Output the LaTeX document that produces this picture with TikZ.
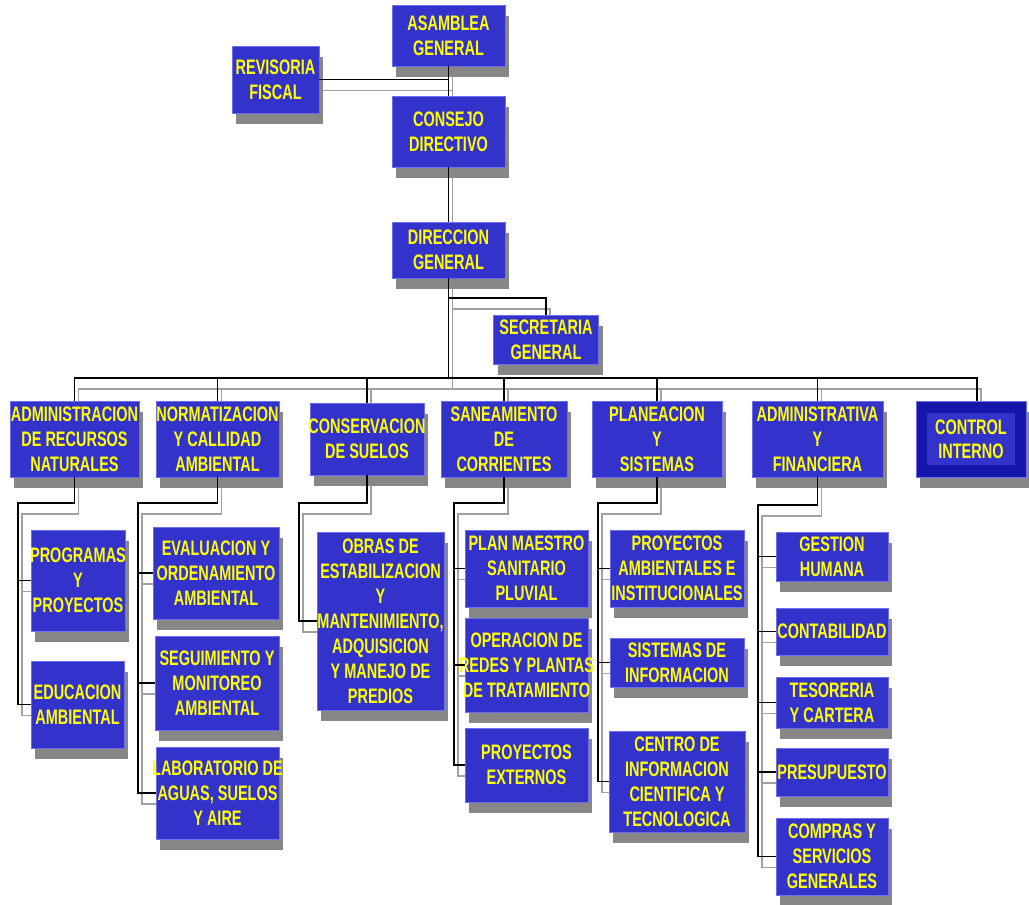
\documentclass[tikz,border=0pt]{standalone}
\usepackage{fontspec}
\newfontfamily\orgfont{Liberation Sans}[FakeStretch=0.69,BoldFeatures={FakeStretch=0.69}]
\usetikzlibrary{shadows,backgrounds}
\definecolor{boxblue}{RGB}{51,51,204}
\definecolor{boxedge}{RGB}{110,110,235}
\definecolor{txtyellow}{RGB}{255,255,0}
\definecolor{shadowgray}{RGB}{135,135,135}
\definecolor{lineshadow}{RGB}{160,160,160}
\definecolor{darkblue}{RGB}{22,22,170}
\tikzset{
 bx/.style 2 args={draw=boxedge, line width=0.8pt, fill=boxblue, minimum width=#1, minimum height=#2, inner sep=0pt,
   drop shadow={shadow xshift=4pt, shadow yshift=-11pt, fill=shadowgray, opacity=1}},
 txt/.style={text=txtyellow, font=\orgfont\bfseries\fontsize{21}{25}\selectfont, align=center, inner sep=0pt},
 conn/.style={draw=black, line width=1.6pt},
 connsh/.style={draw=lineshadow, line width=1.6pt},
}
\newcommand\orgconnectors[1]{%
 \draw[#1] (asamblea.south) -- (consejo.north);
 \draw[#1] (revisoria.east) -- (revisoria.east -| asamblea.south);
 \draw[#1] (consejo.south) -- (direccion.north);
 \draw[#1] (direccion.south) -- (bar);
 \draw[#1] (secj) -| (secretaria.north);
 \draw[#1] (admrec.north) |- (bar) -| ([xshift=6pt]control.north);
 \draw[#1] (normat.north) -- (normat.north |- bar);
 \draw[#1] (conserv.north) -- (conserv.north |- bar);
 \draw[#1] (saneam.north) -- (saneam.north |- bar);
 \draw[#1] (planea.north) -- (planea.north |- bar);
 \draw[#1] (adminfin.north) -- (adminfin.north |- bar);
 % children
 \draw[#1] (admrec.south) |- (spA) |- (educacion.west);
 \draw[#1] (spA |- programas.west) -- (programas.west);
 \draw[#1] (normat.south) |- (spB) |- (laboratorio.west);
 \draw[#1] (spB |- evaluacion.west) -- (evaluacion.west);
 \draw[#1] (spB |- seguimiento.west) -- (seguimiento.west);
 \draw[#1] (conserv.south) |- (spC) |- (obras.west);
 \draw[#1] (saneam.south) |- (spD) |- (proyext.west);
 \draw[#1] (spD |- planmaestro.west) -- (planmaestro.west);
 \draw[#1] (spD |- operacion.west) -- (operacion.west);
 \draw[#1] (planea.south) |- (spE) |- (centro.west);
 \draw[#1] (spE |- proyamb.west) -- (proyamb.west);
 \draw[#1] (spE |- sistinf.west) -- (sistinf.west);
 \draw[#1] (adminfin.south) |- (spF) |- (compras.west);
 \draw[#1] (spF |- gestion.west) -- (gestion.west);
 \draw[#1] (spF |- contab.west) -- (contab.west);
 \draw[#1] (spF |- tesoreria.west) -- (tesoreria.west);
 \draw[#1] (spF |- presupuesto.west) -- (presupuesto.west);
}
\begin{document}
\begin{tikzpicture}[x=1pt,y=-1pt]
\useasboundingbox (0,0) rectangle (1029,905);
% top
\node[bx={113}{61}, label={[txt]center:{ASAMBLEA\\GENERAL}}] (asamblea) at (448.5,35.5) {};
\node[bx={87}{67}, label={[txt]center:{REVISORIA\\FISCAL}}] (revisoria) at (275.5,79.5) {};
\node[bx={113}{71}, label={[txt]center:{CONSEJO\\DIRECTIVO}}] (consejo) at (448.5,131.5) {};
\node[bx={113}{56}, label={[txt]center:{DIRECCION\\GENERAL}}] (direccion) at (448.5,250) {};
\node[bx={105}{49}, label={[txt]center:{SECRETARIA\\GENERAL}}] (secretaria) at (546,339.5) {};
% second row
\node[bx={129}{76}, label={[txt]center:{ADMINISTRACION\\DE RECURSOS\\NATURALES}}] (admrec) at (74.5,439) {};
\node[bx={123}{76}, label={[txt]center:{NORMATIZACION\\Y CALLIDAD\\AMBIENTAL}}] (normat) at (217.5,439) {};
\node[bx={114}{72}, label={[txt]center:{CONSERVACION\\DE SUELOS}}] (conserv) at (367,439) {};
\node[bx={126}{76}, label={[txt]center:{SANEAMIENTO\\DE\\CORRIENTES}}] (saneam) at (504,439) {};
\node[bx={130}{76}, label={[txt]center:{PLANEACION\\Y\\SISTEMAS}}] (planea) at (657,439) {};
\node[bx={131}{76}, label={[txt]center:{ADMINISTRATIVA\\Y\\FINANCIERA}}] (adminfin) at (817.5,439) {};
\node[bx={110}{76}, fill=darkblue] (control) at (971,439) {};
\node[fill=boxblue, minimum width=88, minimum height=52, txt, font=\orgfont\bfseries\fontsize{21}{24}\selectfont] (controlin) at (control.center) {CONTROL\\INTERNO};
% third level
\node[bx={94}{101}, label={[txt]center:{PROGRAMAS\\Y\\PROYECTOS}}] (programas) at (78,580.5) {};
\node[bx={93}{87}, label={[txt]center:{EDUCACION\\AMBIENTAL}}] (educacion) at (77.5,704.5) {};
\node[bx={126}{92}, label={[txt]center:{EVALUACION Y\\ORDENAMIENTO\\AMBIENTAL}}] (evaluacion) at (216,573) {};
\node[bx={124}{94}, label={[txt]center:{SEGUIMIENTO Y\\MONITOREO\\AMBIENTAL}}] (seguimiento) at (217,683) {};
\node[bx={123}{92}, label={[txt]center:{LABORATORIO DE\\AGUAS, SUELOS\\Y AIRE}}] (laboratorio) at (217.5,793) {};
\node[bx={127}{178}, label={[txt]center:{OBRAS DE\\ESTABILIZACION\\Y\\MANTENIMIENTO,\\ADQUISICION\\Y MANEJO DE\\PREDIOS}}] (obras) at (380.5,621) {};
\node[bx={123}{77}, label={[txt]center:{PLAN MAESTRO\\SANITARIO\\PLUVIAL}}] (planmaestro) at (526.5,568.5) {};
\node[bx={123}{94}, label={[txt]center:{OPERACION DE\\REDES Y PLANTAS\\DE TRATAMIENTO}}] (operacion) at (526.5,665) {};
\node[bx={123}{74}, label={[txt]center:{PROYECTOS\\EXTERNOS}}] (proyext) at (526.5,765) {};
\node[bx={134}{77}, label={[txt]center:{PROYECTOS\\AMBIENTALES E\\INSTITUCIONALES}}] (proyamb) at (677,568.5) {};
\node[bx={134}{49}, label={[txt]center:{SISTEMAS DE\\INFORMACION}}] (sistinf) at (677,662.5) {};
\node[bx={136}{101}, label={[txt]center:{CENTRO DE\\INFORMACION\\CIENTIFICA Y\\TECNOLOGICA}}] (centro) at (677,781.5) {};
\node[bx={112}{49}, label={[txt]center:{GESTION\\HUMANA}}] (gestion) at (832,556.5) {};
\node[bx={112}{47}, label={[txt]center:{CONTABILIDAD}}] (contab) at (832,631.5) {};
\node[bx={112}{51}, label={[txt]center:{TESORERIA\\Y CARTERA}}] (tesoreria) at (832,702.5) {};
\node[bx={112}{48}, label={[txt]center:{PRESUPUESTO}}] (presupuesto) at (832,772) {};
\node[bx={112}{77}, label={[txt]center:{COMPRAS Y\\SERVICIOS\\GENERALES}}] (compras) at (832,856.5) {};
% junction coordinates
\coordinate (bar) at (448.5,378);
\coordinate (secj) at (448.5,298);
\coordinate (spA) at (18,503);
\coordinate (spB) at (138,503);
\coordinate (spC) at (299,503);
\coordinate (spD) at (454,503);
\coordinate (spE) at (598,503);
\coordinate (spF) at (758,505);
% connectors
\begin{scope}[on background layer]
 \begin{scope}[transform canvas={shift={(4pt,-11pt)}}]
  \orgconnectors{connsh}
 \end{scope}
\end{scope}
\orgconnectors{conn}
\end{tikzpicture}
\end{document}
